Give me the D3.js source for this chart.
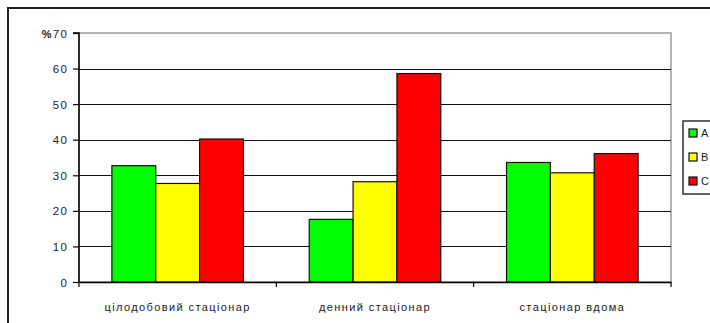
<!DOCTYPE html>
<html><head><meta charset="utf-8">
<script src="https://cdn.jsdelivr.net/npm/d3@7"></script>
<style>body{margin:0;background:#fff}svg{display:block}</style>
</head><body><svg id="c" width="710" height="323"></svg>
<script>
const categories = ["цілодобовий стаціонар", "денний стаціонар", "стаціонар вдома"];
const seriesNames = ["А", "В", "С"];
const seriesColors = ["#00ff00", "#ffff00", "#ff0000"];
const valuesA = [32.7, 17.6, 33.6];
const valuesB = [27.7, 28.2, 30.7];
const valuesC = [40.2, 58.6, 36.1];
const yTicks = [0, 10, 20, 30, 40, 50, 60, 70];
const series = [valuesA, valuesB, valuesC];

const svg = d3.select("#c");
const m = {l: 79, t: 33, r: 671, b: 282};
const font = "'Liberation Sans', Arial, sans-serif";

// outer chart border
svg.append("rect").attr("x", 8).attr("y", 8).attr("width", 720).attr("height", 330)
  .attr("fill", "#fff").attr("stroke", "#222").attr("stroke-width", 2);

const x = d3.scaleBand().domain(categories).range([m.l, m.r]);
const y = d3.scaleLinear().domain([0, 70]).range([m.b, m.t]);
const bw = x.bandwidth() / (3 + 1.5);
const x1 = d3.scaleBand().domain(d3.range(3)).range([bw * 0.75, x.bandwidth() - bw * 0.75]);

// plot area border (gray)
svg.append("rect").attr("x", m.l).attr("y", m.t).attr("width", m.r - m.l).attr("height", m.b - m.t)
  .attr("fill", "none").attr("stroke", "#999").attr("stroke-width", 1.5);

// gridlines
svg.append("g").selectAll("line").data(yTicks.filter(d => d > 0 && d < 70)).join("line")
  .attr("x1", m.l).attr("x2", m.r).attr("y1", d => Math.round(y(d)) + 0.5).attr("y2", d => Math.round(y(d)) + 0.5)
  .attr("stroke", "#111").attr("stroke-width", 1.2);

// bars
const g = svg.append("g");
series.forEach((vals, si) => {
  g.selectAll(null).data(vals).join("rect")
    .attr("x", (d, i) => x(categories[i]) + x1(si))
    .attr("y", d => y(d))
    .attr("width", x1.bandwidth())
    .attr("height", d => y(0) - y(d))
    .attr("fill", seriesColors[si]).attr("stroke", "#111").attr("stroke-width", 1.2);
});

// y axis
const yAxis = d3.axisLeft(y).tickValues(yTicks).tickSize(6).tickPadding(5);
const ya = svg.append("g").attr("transform", `translate(${m.l},0)`).call(yAxis);
ya.select(".domain").attr("stroke", "#000").attr("stroke-width", 1.5).attr("d", `M-6,${m.t}H0V${m.b}`);
ya.selectAll(".tick line").attr("stroke", "#000").attr("stroke-width", 1.2);
ya.selectAll("text").attr("font-family", font).attr("font-size", 11.5).attr("fill", "#222")
  .attr("letter-spacing", 1.2).attr("dy", "0.35em");
ya.select(".tick:last-of-type text").text(null).call(t => {
  t.append("tspan").attr("font-size", 11).attr("font-weight", "bold").text("%");
  t.append("tspan").text("70");
});

// x axis
const xAxis = d3.axisBottom(x).tickSize(6).tickSizeOuter(0).tickFormat(() => "");
const xa = svg.append("g").attr("transform", `translate(0,${m.b})`).call(xAxis);
xa.select(".domain").attr("stroke", "#000").attr("stroke-width", 1.5);
xa.selectAll(".tick").remove();
const bounds = [m.l, x(categories[1]), x(categories[2]), m.r];
xa.selectAll("line.sep").data(bounds).join("line").attr("class", "sep")
  .attr("x1", d => d).attr("x2", d => d).attr("y1", 0).attr("y2", 5)
  .attr("stroke", "#000").attr("stroke-width", 1.2);
svg.append("g").selectAll("text").data(categories).join("text")
  .attr("x", d => x(d) + x.bandwidth() / 2).attr("y", 311)
  .attr("text-anchor", "middle").attr("font-family", font).attr("font-size", 11)
  .attr("letter-spacing", 1.4).attr("fill", "#222").text(d => d);

// legend
const lg = svg.append("g");
lg.append("rect").attr("x", 683).attr("y", 121).attr("width", 60).attr("height", 73)
  .attr("fill", "#fff").attr("stroke", "#111").attr("stroke-width", 1.3);
seriesNames.forEach((n, i) => {
  const cy = 133 + i * 24;
  lg.append("rect").attr("x", 689).attr("y", cy - 4).attr("width", 8).attr("height", 8)
    .attr("fill", seriesColors[i]).attr("stroke", "#111").attr("stroke-width", 1.2);
  lg.append("text").attr("x", 701).attr("y", cy).attr("dy", "0.35em")
    .attr("font-family", font).attr("font-size", 11).attr("fill", "#222").text(n);
});
</script></body></html>
